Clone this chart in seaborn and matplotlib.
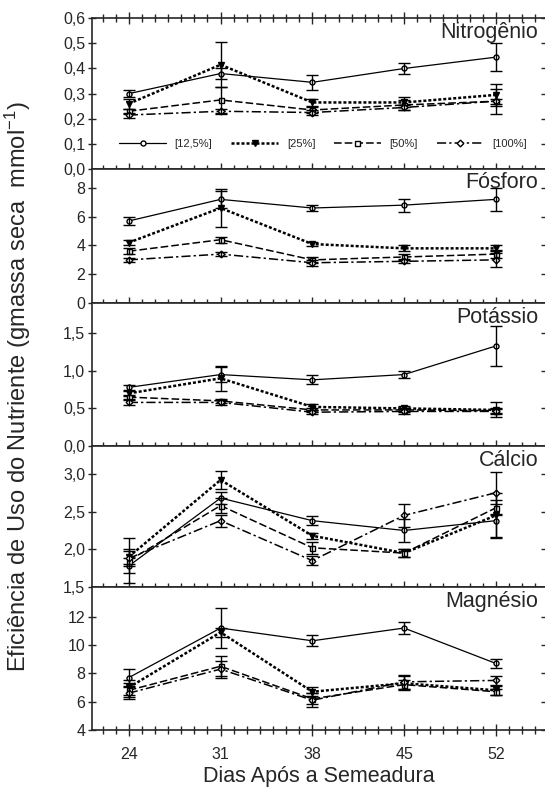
import numpy as np
import pandas as pd
import seaborn as sns
import matplotlib.pyplot as plt
from matplotlib.ticker import MultipleLocator, FixedLocator

# Dados
dias = [24, 31, 38, 45, 52]
tratamentos = ["[12,5%]", "[25%]", "[50%]", "[100%]"]
nutrientes = ["Nitrogênio", "Fósforo", "Potássio", "Cálcio", "Magnésio"]

# medias (uma lista por tratamento: 12,5 / 25 / 50 / 100 %)
n_media = [[0.30, 0.38, 0.345, 0.40, 0.445],
           [0.26, 0.415, 0.265, 0.265, 0.295],
           [0.23, 0.275, 0.235, 0.255, 0.27],
           [0.215, 0.23, 0.225, 0.245, 0.27]]
n_erro = [[0.015, 0.02, 0.03, 0.02, 0.055],
          [0.02, 0.09, 0.015, 0.02, 0.045],
          [0.01, 0.05, 0.01, 0.02, 0.05],
          [0.01, 0.01, 0.01, 0.01, 0.01]]

p_media = [[5.7, 7.2, 6.6, 6.8, 7.2],
           [4.2, 6.6, 4.1, 3.8, 3.8],
           [3.6, 4.4, 3.0, 3.2, 3.4],
           [3.0, 3.4, 2.8, 2.9, 3.0]]
p_erro = [[0.3, 0.6, 0.2, 0.45, 0.8],
          [0.2, 1.3, 0.15, 0.2, 0.2],
          [0.2, 0.2, 0.2, 0.2, 0.3],
          [0.15, 0.15, 0.2, 0.15, 0.5]]

k_media = [[0.78, 0.95, 0.88, 0.95, 1.33],
           [0.70, 0.90, 0.52, 0.50, 0.48],
           [0.65, 0.60, 0.48, 0.48, 0.47],
           [0.58, 0.58, 0.45, 0.46, 0.46]]
k_erro = [[0.03, 0.1, 0.06, 0.05, 0.27],
          [0.03, 0.17, 0.04, 0.03, 0.1],
          [0.03, 0.03, 0.03, 0.03, 0.03],
          [0.03, 0.03, 0.03, 0.03, 0.03]]

ca_media = [[1.78, 2.68, 2.38, 2.25, 2.38],
            [1.90, 2.92, 2.18, 1.95, 2.45],
            [1.85, 2.58, 2.02, 1.95, 2.55],
            [1.88, 2.38, 1.85, 2.45, 2.75]]
ca_erro = [[0.1, 0.08, 0.06, 0.15, 0.22],
           [0.1, 0.12, 0.04, 0.05, 0.3],
           [0.3, 0.1, 0.08, 0.05, 0.1],
           [0.1, 0.08, 0.06, 0.15, 0.28]]

mg_media = [[7.7, 11.2, 10.3, 11.2, 8.7],
            [7.0, 10.9, 6.7, 7.3, 6.8],
            [6.8, 8.5, 6.2, 7.2, 6.7],
            [6.6, 8.3, 6.1, 7.4, 7.5]]
mg_erro = [[0.6, 1.4, 0.4, 0.4, 0.3],
           [0.5, 0.3, 0.3, 0.5, 0.3],
           [0.5, 0.7, 0.4, 0.3, 0.2],
           [0.4, 0.6, 0.5, 0.5, 0.3]]

n_ticks = [0.0, 0.1, 0.2, 0.3, 0.4, 0.5, 0.6]
p_ticks = [0, 2, 4, 6, 8]
k_ticks = [0.0, 0.5, 1.0, 1.5]
ca_ticks = [1.5, 2.0, 2.5, 3.0]
mg_ticks = [4, 6, 8, 10, 12]

medias = [n_media, p_media, k_media, ca_media, mg_media]
erros = [n_erro, p_erro, k_erro, ca_erro, mg_erro]
ticks = [n_ticks, p_ticks, k_ticks, ca_ticks, mg_ticks]
limites = [(0, 0.6), (0, 9.3), (0, 1.9), (1.5, 3.37), (4, 14.1)]
decimais = [1, 0, 1, 1, 0]

# estilo de cada tratamento
estilos = [dict(linestyle='-', marker='o', mfc='white', lw=0.9, ms=3.6),
           dict(linestyle=(0, (1.2, 0.8)), marker='v', mfc='black', lw=1.8, ms=4),
           dict(linestyle=(0, (5, 2)), marker='s', mfc='white', lw=1.1, ms=3.6),
           dict(linestyle=(0, (6, 2, 1.5, 2)), marker='D', mfc='white', lw=1.1, ms=3.4)]

sns.set_style("ticks")
plt.rcParams['font.family'] = ['Liberation Sans', 'DejaVu Sans']
plt.rcParams['mathtext.fontset'] = 'custom'
plt.rcParams['mathtext.rm'] = 'Liberation Sans'
plt.rcParams['mathtext.it'] = 'Liberation Sans'

fig, axes = plt.subplots(5, 1, figsize=(5.45, 7.9), dpi=100, sharex=True,
                         gridspec_kw=dict(height_ratios=[151, 134, 143, 141, 143]))
fig.subplots_adjust(left=0.169, right=1.0, top=0.977, bottom=0.076, hspace=0)

for i, ax in enumerate(axes):
    for j, trat in enumerate(tratamentos):
        df = pd.DataFrame({'dia': dias, 'valor': medias[i][j], 'erro': erros[i][j]})
        est = estilos[j]
        sns.lineplot(data=df, x='dia', y='valor', ax=ax, color='black',
                     linestyle=est['linestyle'], linewidth=est['lw'],
                     marker=est['marker'], markersize=est['ms'],
                     markerfacecolor=est['mfc'], markeredgecolor='black',
                     markeredgewidth=1.0, label=trat, legend=False)
        ax.errorbar(df['dia'], df['valor'], yerr=df['erro'], fmt='none',
                    ecolor='black', elinewidth=1.0, capsize=4, capthick=1.0)

    ax.set_ylim(limites[i])
    ax.set_xlim(21.2, 55.75)
    ax.yaxis.set_major_locator(FixedLocator(ticks[i]))
    ax.set_yticklabels([f"{t:.{decimais[i]}f}".replace('.', ',') for t in ticks[i]])
    ax.set_xticks(dias)
    ax.xaxis.set_minor_locator(MultipleLocator(1))
    ax.tick_params(axis='y', direction='inout', length=6, width=1.0,
                   left=True, right=True, labelright=False, labelsize=11.5, pad=2)
    ax.tick_params(axis='x', which='major', direction='inout', length=9, width=1.0,
                   top=False, labelsize=11.5, pad=8)
    ax.tick_params(axis='x', which='minor', direction='inout', length=6, width=1.0,
                   top=False)
    if i == 0:
        ax.tick_params(axis='x', which='both', top=True)
    ax.spines['right'].set_visible(False)
    for s in ['left', 'bottom', 'top']:
        ax.spines[s].set_linewidth(1.2)
    ax.set_ylabel('')
    ax.set_xlabel('')
    ax.text(0.985, 0.975, nutrientes[i], transform=ax.transAxes, ha='right',
            va='top', fontsize=15.5)

leg = axes[0].legend(loc='center left', bbox_to_anchor=(0.05, 0.165, 0.92, 0.0),
                     mode='expand', ncol=4, frameon=False, fontsize=8,
                     handlelength=4.2, handletextpad=0.8, borderaxespad=0.0)

axes[-1].set_xlabel('Dias Após a Semeadura', fontsize=15.5, labelpad=3)
fig.text(0.033, 0.51, 'Eficiência de Uso do Nutriente (gmassa seca  mmol$^{-1}$)',
         rotation=90, ha='center', va='center', fontsize=17)

fig.savefig('out.png', dpi=100)
